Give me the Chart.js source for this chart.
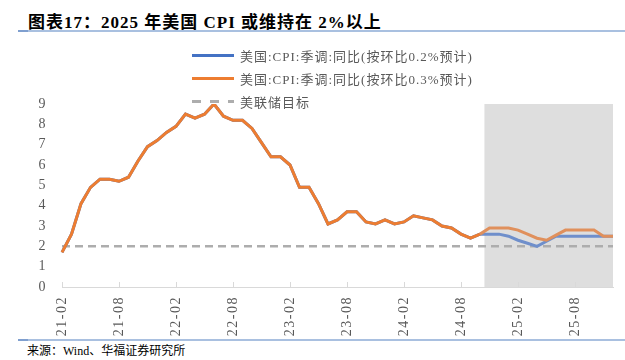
<!DOCTYPE html>
<html>
<head>
<meta charset="utf-8">
<script src="https://cdn.jsdelivr.net/npm/chart.js@4.4.1/dist/chart.umd.min.js"></script>
<style>
    html, body { margin: 0; padding: 0; background: #fff; }
    #page { position: relative; width: 625px; height: 360px; overflow: hidden; }
    #title {
        position: absolute; left: 28px; top: 8px;
        font-family: "Liberation Serif", "Noto Sans CJK SC", serif;
        font-weight: 700; font-size: 17px; letter-spacing: 1px; color: #000; white-space: nowrap;
    }
    .rule { position: absolute; left: 18px; width: 607px; height: 2px; background: #A9C0E0; }
    .rule span { position: absolute; left: 0; top: 0; width: 10px; height: 2px; background: #7F9FCF; }
    #source {
        position: absolute; left: 27px; top: 341px;
        font-family: "Liberation Serif", "Noto Sans CJK SC", serif;
        font-size: 12px; color: #000; white-space: nowrap;
    }
    #chartBox { position: absolute; left: 0; top: 36px; width: 625px; height: 302px; }
    #legend { position: absolute; left: 192px; top: 44px; }
    .item { position: relative; height: 23px; }
    .swatch { position: absolute; left: 0; top: 10px; width: 42px; height: 3px; }
    .label {
        position: absolute; left: 48px; top: 2px; white-space: nowrap;
        font-family: "Liberation Serif", "Noto Sans CJK SC", serif;
        font-size: 13px; letter-spacing: 1px; color: #595959;
    }
</style>
</head>
<body>
<div id="page">
    <div id="title">图表17：2025 年美国 CPI 或维持在 2%以上</div>
    <div class="rule" style="top:30px"><span></span></div>
    <div id="chartBox"><canvas id="cpiChart"></canvas></div>
    <div id="legend"></div>
    <div class="rule" style="top:339px"><span></span></div>
    <div id="source">来源：Wind、华福证券研究所</div>
</div>
<script>
// ---- data (monthly, 2021-02 .. 2025-12) ----
const months = [
    '21-02', '21-03', '21-04', '21-05', '21-06', '21-07', '21-08', '21-09', '21-10', '21-11', '21-12',
    '22-01', '22-02', '22-03', '22-04', '22-05', '22-06', '22-07', '22-08', '22-09', '22-10', '22-11', '22-12',
    '23-01', '23-02', '23-03', '23-04', '23-05', '23-06', '23-07', '23-08', '23-09', '23-10', '23-11', '23-12',
    '24-01', '24-02', '24-03', '24-04', '24-05', '24-06', '24-07', '24-08', '24-09', '24-10', '24-11', '24-12',
    '25-01', '25-02', '25-03', '25-04', '25-05', '25-06', '25-07', '25-08', '25-09', '25-10', '25-11', '25-12'
];

// actual CPI yoy (seasonally adjusted), 21-02 .. 24-10
const cpiActual = [
    1.7, 2.6, 4.1, 4.9, 5.3, 5.3, 5.2, 5.4, 6.2, 6.9, 7.2,
    7.6, 7.9, 8.5, 8.3, 8.5, 9.0, 8.4, 8.2, 8.2, 7.8, 7.1, 6.4,
    6.4, 6.0, 4.9, 4.9, 4.1, 3.1, 3.3, 3.7, 3.7, 3.2, 3.1, 3.3,
    3.1, 3.2, 3.5, 3.4, 3.3, 3.0, 2.9, 2.6, 2.4, 2.6
];

// projections, 24-11 .. 25-12
const forecastMom02 = [2.6, 2.6, 2.5, 2.3, 2.15, 2.0, 2.25, 2.5, 2.5, 2.5, 2.5, 2.5, 2.5, 2.5];
const forecastMom03 = [2.9, 2.9, 2.9, 2.8, 2.6, 2.4, 2.3, 2.55, 2.8, 2.8, 2.8, 2.8, 2.5, 2.5];

const fedTarget = [
    2, 2, 2, 2, 2, 2, 2, 2, 2, 2, 2,
    2, 2, 2, 2, 2, 2, 2, 2, 2, 2, 2, 2,
    2, 2, 2, 2, 2, 2, 2, 2, 2, 2, 2, 2,
    2, 2, 2, 2, 2, 2, 2, 2, 2, 2, 2, 2,
    2, 2, 2, 2, 2, 2, 2, 2, 2, 2, 2, 2
];

// grey band over the projected months
const forecastBand = [
    null, null, null, null, null, null, null, null, null, null, null,
    null, null, null, null, null, null, null, null, null, null, null, null,
    null, null, null, null, null, null, null, null, null, null, null, null,
    null, null, null, null, null, null, null, null, null, null, 9, 9,
    9, 9, 9, 9, 9, 9, 9, 9, 9, 9, 9, 9
];

const yTicks = [0, 1, 2, 3, 4, 5, 6, 7, 8, 9];

const FORECAST_START = cpiActual.length - 1;
const BLUE = '#4472C4', BLUE_LIGHT = '#6F8FCB';
const ORANGE = '#ED7D31', ORANGE_LIGHT = '#E0905C';
const GREY = '#ADADAD';
const SERIF = '"Liberation Serif", "Times New Roman", serif';

const splitColor = (solid, light) => ctx => ctx.p0DataIndex >= FORECAST_START ? light : solid;

// wider tracking for axis text, like the source image
const axisTracking = {
    id: 'axisTracking',
    beforeDraw(chart) { chart.ctx.letterSpacing = '1.5px'; }
};

// small tick marks pointing up from the x axis, every 6 months
const innerTicks = {
    id: 'innerTicks',
    afterDatasetsDraw(chart) {
        const xs = chart.scales.x;
        const c = chart.ctx;
        c.save();
        c.strokeStyle = '#D9D9D9';
        c.lineWidth = 1;
        months.forEach((m, i) => {
            if (i % 6 !== 0) return;
            const px = Math.round(xs.getPixelForValue(i)) + 0.5;
            c.beginPath();
            c.moveTo(px, xs.top);
            c.lineTo(px, xs.top - 5);
            c.stroke();
        });
        c.restore();
    }
};

const chart = new Chart(document.getElementById('cpiChart'), {
    type: 'line',
    data: {
        labels: months,
        datasets: [
            {
                label: '美国:CPI:季调:同比(按环比0.2%预计)',
                data: cpiActual.concat(forecastMom02),
                borderColor: BLUE,
                borderWidth: 3,
                pointRadius: 0,
                tension: 0,
                order: 2,
                segment: { borderColor: splitColor(BLUE, BLUE_LIGHT) }
            },
            {
                label: '美国:CPI:季调:同比(按环比0.3%预计)',
                data: cpiActual.concat(forecastMom03),
                borderColor: ORANGE,
                borderWidth: 3,
                pointRadius: 0,
                tension: 0,
                order: 1,
                segment: { borderColor: splitColor(ORANGE, ORANGE_LIGHT) }
            },
            {
                label: '美联储目标',
                data: fedTarget,
                borderColor: GREY,
                borderWidth: 2.5,
                borderDash: [8, 5],
                pointRadius: 0,
                order: 3
            },
            {
                type: 'bar',
                label: 'band',
                data: forecastBand,
                backgroundColor: '#DEDEDE',
                barPercentage: 1,
                categoryPercentage: 1,
                order: 4
            }
        ]
    },
    options: {
        responsive: true,
        maintainAspectRatio: false,
        animation: false,
        layout: { padding: { top: 68, right: 12, left: 0, bottom: 0 } },
        plugins: {
            legend: { display: false },
            tooltip: { enabled: false }
        },
        scales: {
            x: {
                offset: false,
                grid: { display: false, drawTicks: false },
                border: { display: true, color: '#D9D9D9', width: 1 },
                ticks: {
                    autoSkip: false,
                    maxRotation: 90,
                    minRotation: 90,
                    padding: 9,
                    color: '#595959',
                    font: { family: SERIF, size: 14 },
                    callback: (value, index) => index % 6 === 0 ? months[index] : null
                },
                afterFit: (scale) => { scale.height = 51; }
            },
            y: {
                min: 0,
                max: 9,
                grid: { display: false, drawTicks: false },
                border: { display: false },
                afterBuildTicks: (scale) => { scale.ticks = yTicks.map(v => ({ value: v })); },
                ticks: {
                    autoSkip: false,
                    padding: 15,
                    color: '#595959',
                    font: { family: SERIF, size: 14 }
                },
                afterFit: (scale) => { scale.width = 62; }
            }
        }
    },
    plugins: [axisTracking, innerTicks]
});

// legend built from the line datasets
const legendBox = document.getElementById('legend');
chart.data.datasets.filter(d => d.type !== 'bar').forEach(d => {
    const item = document.createElement('div');
    item.className = 'item';
    const sw = document.createElement('div');
    sw.className = 'swatch';
    if (d.borderDash) {
        sw.style.background = `repeating-linear-gradient(to right, ${d.borderColor} 0 9px, transparent 9px 18px)`;
    } else {
        sw.style.background = d.borderColor;
    }
    const lb = document.createElement('div');
    lb.className = 'label';
    lb.textContent = d.label;
    item.appendChild(sw);
    item.appendChild(lb);
    legendBox.appendChild(item);
});
</script>
</body>
</html>
